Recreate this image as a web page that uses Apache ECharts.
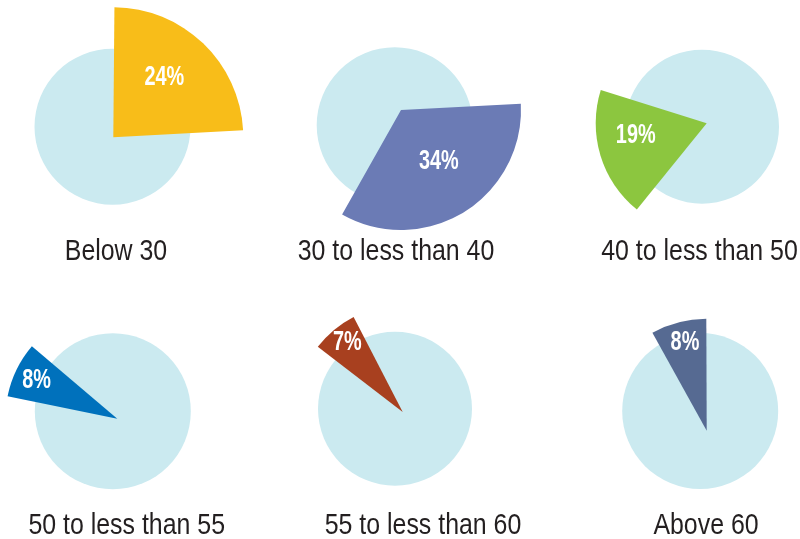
<!DOCTYPE html>
<html>
<head>
<meta charset="utf-8">
<script src="https://cdn.jsdelivr.net/npm/echarts@6/dist/echarts.min.js"></script>
<style>
html, body { margin: 0; padding: 0; background: #fff; }
#chart { width: 800px; height: 539px; }
</style>
</head>
<body>
<div id="chart"></div>
<script>
// data
var categories = ['Below 30', '30 to less than 40', '40 to less than 50', '50 to less than 55', '55 to less than 60', 'Above 60'];
var shares = [24, 34, 19, 8, 7, 8];
var colors = ['#f8bd19', '#6b7bb5', '#8cc63f', '#0071bc', '#a8401f', '#566a92'];

// layout of the six small pies
var circleCenters = [[112.5, 126.7], [394.7, 125.3], [702, 126.7], [112.8, 411.3], [395, 408.7], [700.2, 411]];
var circleRadius = [78, 78, 77, 78, 77, 78];
var sliceCenters = [[113.3, 137.3], [401, 110], [706.7, 123.3], [117.3, 418.7], [402.7, 412], [706.7, 430.7]];
var sliceRadius = [130, 120, 111, 112, 107, 112];
var sliceStart = [89.5, 3, 231, 168.5, 142.5, 119];
// percent label: angle (deg) and distance from the slice tip
var labelAngle = [49.6, -53.7, 189.7, 154.4, 128.6, 103.9];
var labelDist = [78.7, 64, 72, 89.4, 88.7, 90.6];
var titleX = [116, 396, 699.5, 126.7, 423, 706];
var titleY = [252, 252, 252, 525.5, 525.5, 525.5];

var series = [];
var texts = [];
for (var i = 0; i < shares.length; i++) {
	// light blue disc
	series.push({
		type: 'pie',
		silent: true,
		center: circleCenters[i],
		radius: circleRadius[i],
		label: { show: false },
		labelLine: { show: false },
		data: [{ value: 1, itemStyle: { color: '#cbeaf0' } }]
	});
	// the pulled-out slice
	series.push({
		type: 'pie',
		silent: true,
		center: sliceCenters[i],
		radius: sliceRadius[i],
		startAngle: sliceStart[i],
		clockwise: true,
		label: { show: false },
		labelLine: { show: false },
		data: [
			{ value: shares[i], itemStyle: { color: colors[i] } },
			{ value: 100 - shares[i], itemStyle: { color: 'transparent' } }
		]
	});
	var a = labelAngle[i] * Math.PI / 180;
	texts.push({
		type: 'text',
		x: sliceCenters[i][0] + labelDist[i] * Math.cos(a),
		y: sliceCenters[i][1] - labelDist[i] * Math.sin(a),
		scaleX: 0.71,
		silent: true,
		z: 10,
		style: {
			text: shares[i] + '%',
			fill: '#fff',
			fontFamily: '"Liberation Sans", Arial, sans-serif',
			fontWeight: 'bold',
			fontSize: 28,
			align: 'center',
			verticalAlign: 'middle'
		}
	});
	texts.push({
		type: 'text',
		x: titleX[i],
		y: titleY[i],
		scaleX: 0.83,
		silent: true,
		style: {
			text: categories[i],
			fill: '#231f20',
			fontFamily: '"Liberation Sans", Arial, sans-serif',
			fontSize: 30,
			align: 'center',
			verticalAlign: 'middle'
		}
	});
}

var myChart = echarts.init(document.getElementById('chart'));
myChart.setOption({
	animation: false,
	backgroundColor: '#fff',
	series: series,
	graphic: { elements: texts }
});
window.addEventListener('resize', function () {
	myChart.resize();
});
</script>
</body>
</html>
